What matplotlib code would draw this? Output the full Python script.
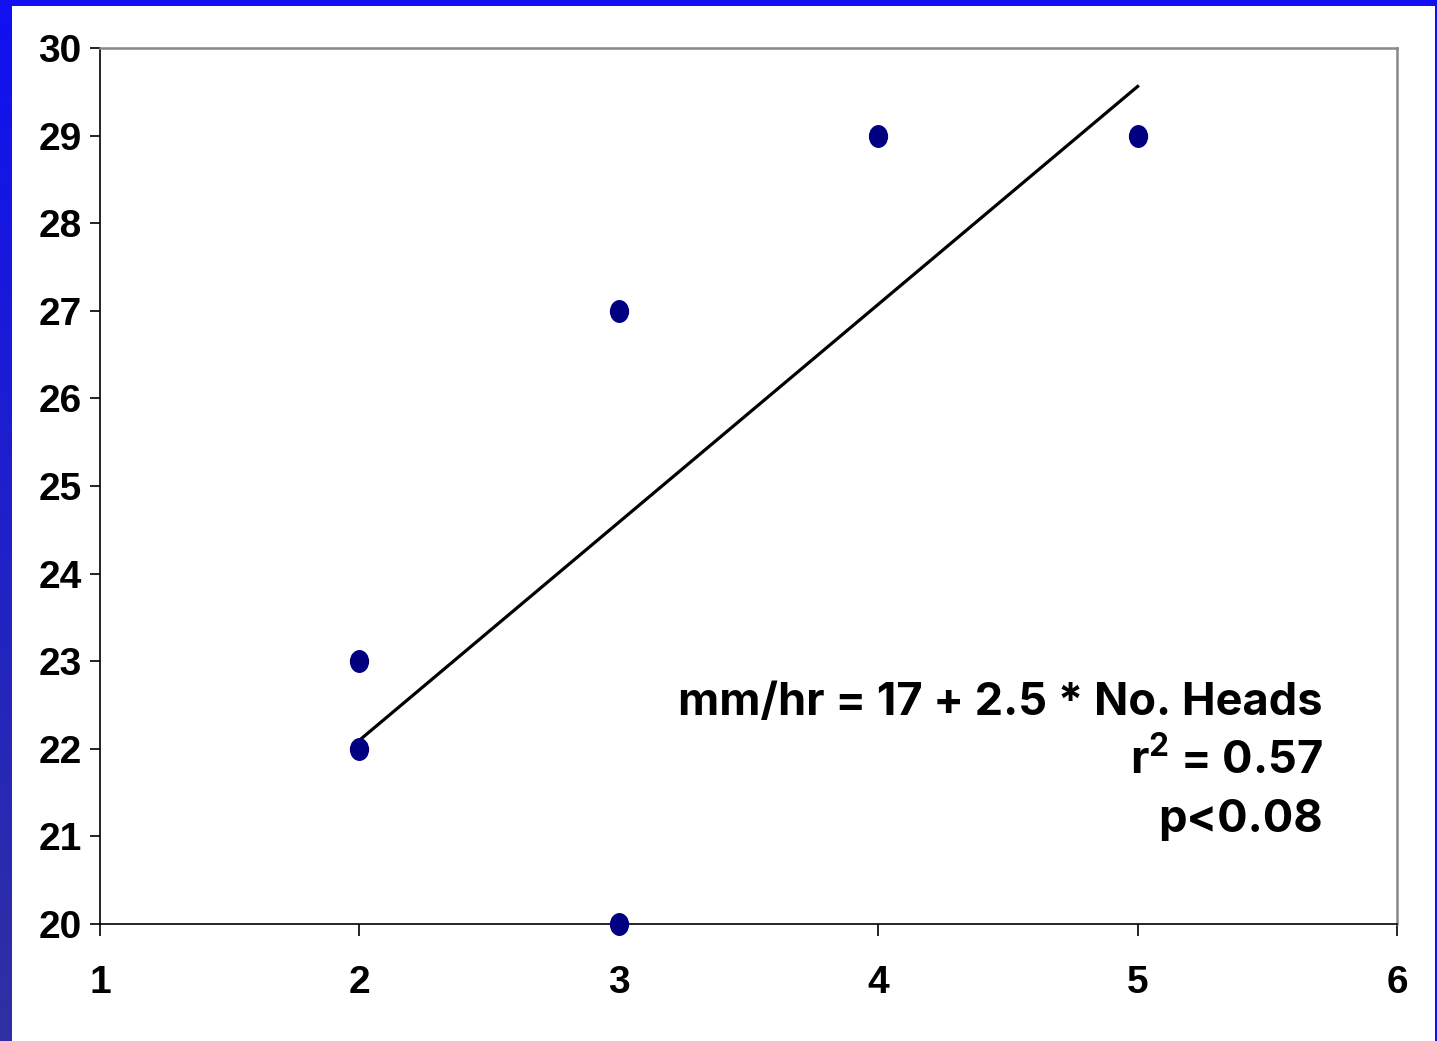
import numpy as np
import matplotlib
matplotlib.use("Agg")
import matplotlib.pyplot as plt
from matplotlib.path import Path
from matplotlib.transforms import Affine2D
from matplotlib.patches import Rectangle
from matplotlib.colors import LinearSegmentedColormap

# Data
heads = [2, 2, 3, 3, 4, 5]
rate = [23, 22, 27, 20, 29, 29]
x_ticks = [1, 2, 3, 4, 5, 6]
y_ticks = [20, 21, 22, 23, 24, 25, 26, 27, 28, 29, 30]
annot_lines = ["mm/hr = 17 + 2.5 * No. Heads", "r$^{2}$ = 0.57", "p<0.08"]

plt.rcParams['font.family'] = ['Liberation Sans', 'DejaVu Sans']
plt.rcParams['font.weight'] = 'bold'
plt.rcParams['mathtext.fontset'] = 'custom'
plt.rcParams['mathtext.rm'] = 'Inter:bold'
plt.rcParams['mathtext.it'] = 'Inter:bold'
plt.rcParams['mathtext.bf'] = 'Inter:bold'

W, H = 1437, 1041
fig = plt.figure(figsize=(W / 100, H / 100), dpi=100)
fig.patch.set_facecolor('white')

# blue frame
fig.add_artist(Rectangle((0, 1 - 6 / H), 1, 6 / H, transform=fig.transFigure,
                         facecolor='#1010F2', edgecolor='none', zorder=0))
fig.add_artist(Rectangle((1 - 2 / W, 0), 2 / W, 1, transform=fig.transFigure,
                         facecolor='#1010F2', edgecolor='none', zorder=0))
gax = fig.add_axes([0, 0, 12 / W, 1])
grad = np.linspace(0, 1, 256).reshape(-1, 1)
cm = LinearSegmentedColormap.from_list('b', ['#1010F2', '#3030A2'])
gax.imshow(grad, aspect='auto', cmap=cm, extent=[0, 1, 1, 0])
gax.set_axis_off()

ax = fig.add_axes([100 / W, 1 - 924 / H, (1397 - 100) / W, (924 - 48) / H])
ax.set_xlim(1, 6)
ax.set_ylim(20, 30)

ell = Path.unit_circle().transformed(Affine2D().scale(0.83, 1.0))
ax.plot(heads, rate, linestyle='none', marker=ell, markersize=15.5,
        markerfacecolor='#000080', markeredgecolor='#000080', zorder=4,
        clip_on=False)

slope, intercept = np.polyfit(heads, rate, 1)
xf = np.array([min(heads), max(heads)])
ax.plot(xf, intercept + slope * xf, color='black', lw=2.3, zorder=3)

ax.set_xticks(x_ticks)
ax.set_yticks(y_ticks)
ax.set_xticklabels([str(v) for v in x_ticks], fontsize=28, fontweight='bold')
ax.set_yticklabels([str(v) for v in y_ticks], fontsize=28, fontweight='bold')
ax.tick_params(axis='y', direction='out', length=7.2, width=1.2, pad=6, color='black')
ax.tick_params(axis='x', direction='out', length=8.6, width=1.2, pad=21, color='black')

for s in ['left', 'bottom']:
    ax.spines[s].set_color('black')
    ax.spines[s].set_linewidth(1.2)
for s in ['top', 'right']:
    ax.spines[s].set_color('#888888')
    ax.spines[s].set_linewidth(1.8)

baselines = [715, 774, 832]
for txt, yb in zip(annot_lines, baselines):
    fig.text(1323 / W, 1 - yb / H, txt, ha='right', va='baseline',
             fontsize=32.5, fontweight='bold', color='black',
             family=['Inter', 'DejaVu Sans'])

fig.savefig('out.png', dpi=100)
